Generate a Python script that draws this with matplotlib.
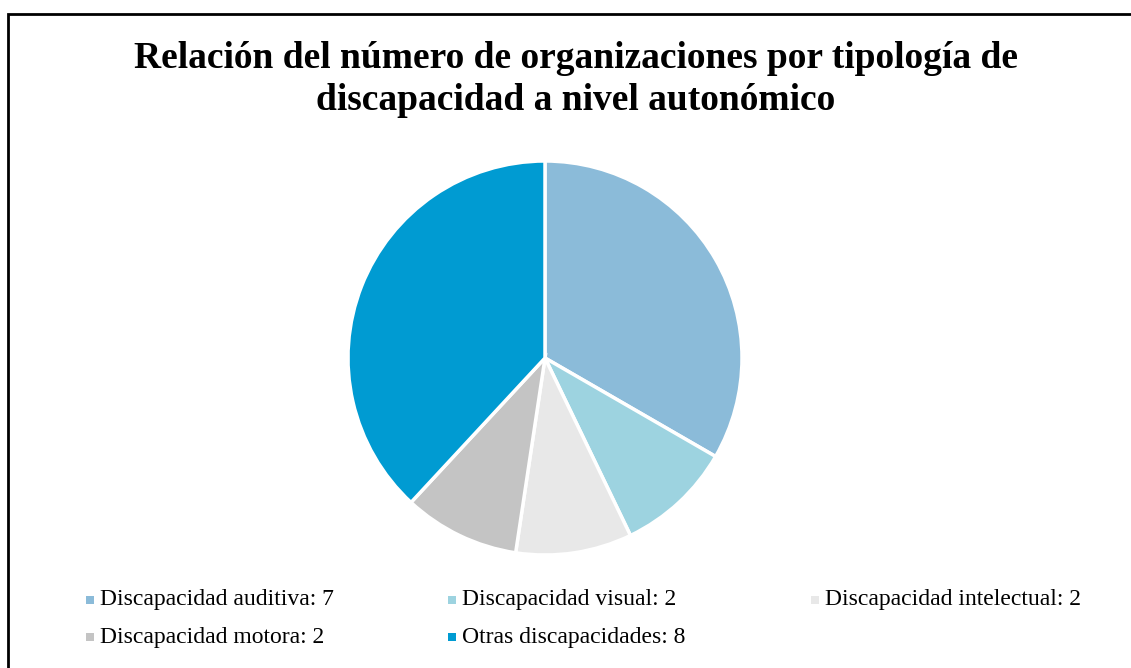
import matplotlib.pyplot as plt
from matplotlib.patches import Rectangle

categories = ["Discapacidad auditiva", "Discapacidad visual", "Discapacidad intelectual",
              "Discapacidad motora", "Otras discapacidades"]
values = [7, 2, 2, 2, 8]
colors = ["#8BBBD9", "#9DD3E0", "#E8E8E8", "#C4C4C4", "#009BD2"]

W, H = 1131, 668
plt.rcParams["font.family"] = ["Liberation Serif", "DejaVu Serif"]

fig = plt.figure(figsize=(W / 100, H / 100), dpi=100)

# chart frame (right and bottom edges fall outside the picture)
fig.add_artist(Rectangle((8 / W, -0.05), 1.2, 1.05 - 14 / H, transform=fig.transFigure,
                         fill=False, edgecolor="black", lw=2.0))

fig.text(576 / W, 1 - 58 / H, "Relación del número de organizaciones por tipología de",
         ha="center", va="center", fontsize=27, fontweight="bold")
fig.text(576 / W, 1 - 100 / H, "discapacidad a nivel autonómico",
         ha="center", va="center", fontsize=27, fontweight="bold")

# pie: center (545, 358), radius ~197 px
r = 197
ax = fig.add_axes([(545 - r) / W, (H - 358 - r) / H, 2 * r / W, 2 * r / H])
ax.pie(values, colors=colors, startangle=90, counterclock=False,
       wedgeprops=dict(edgecolor="white", linewidth=2.5))
ax.set_aspect("equal")
ax.set_xlim(-1, 1)
ax.set_ylim(-1, 1)
ax.axis("off")

# legend laid out row by row, three columns
col_x = [86, 448, 811]
row_y = [600, 637]
for i, (lab, val, col) in enumerate(zip(categories, values, colors)):
    x = col_x[i % 3]
    y = row_y[i // 3]
    fig.add_artist(Rectangle((x / W, (H - y - 4) / H), 8 / W, 8 / H,
                             transform=fig.transFigure, facecolor=col, edgecolor="none"))
    fig.text((x + 14) / W, 1 - y / H, f"{lab}: {val}", ha="left", va="center",
             fontsize=17)

fig.savefig("out.png", dpi=100)
